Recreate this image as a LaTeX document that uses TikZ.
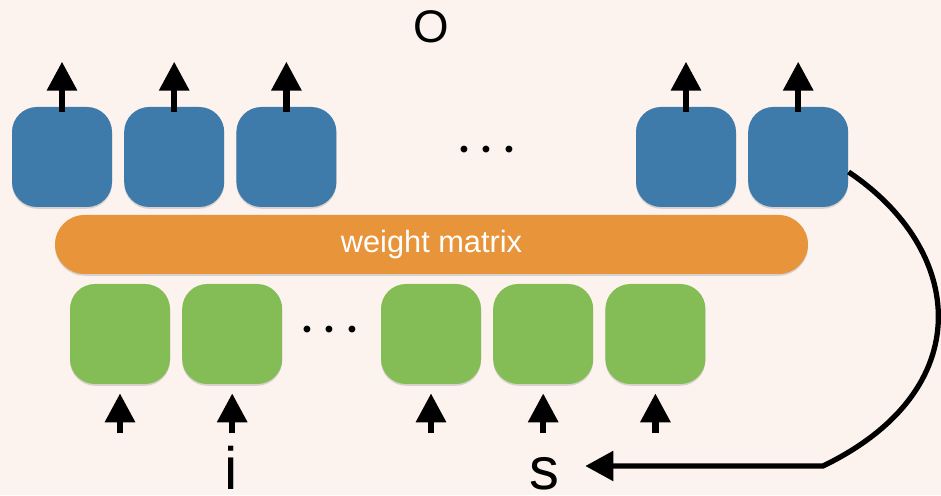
\documentclass[tikz,border=0pt]{standalone}
\usepackage{fontspec}
\setmainfont{Liberation Sans}
\usetikzlibrary{arrows.meta,positioning,shadows}
\definecolor{paper}{RGB}{253,243,238}
\definecolor{outblue}{RGB}{62,122,170}
\definecolor{matorange}{RGB}{232,148,58}
\definecolor{ingreen}{RGB}{132,188,86}
\tikzset{
    cell/.style={rounded corners=0.5cm,minimum size=2cm,inner sep=0pt,
        drop shadow={opacity=0.3,shadow xshift=0pt,shadow yshift=-1pt}},
    outcell/.style={cell,fill=outblue},
    incell/.style={cell,fill=ingreen},
    matrixbar/.style={rounded corners=0.59cm,fill=matorange,minimum width=15.06cm,
        minimum height=1.18cm,text=white,font=\fontsize{17.5}{20}\selectfont,
        drop shadow={opacity=0.3,shadow xshift=0pt,shadow yshift=-1pt}},
    up/.style={-{Triangle[length=5.8mm,width=5.8mm]},line width=3.6pt},
    feedback/.style={-{Triangle[length=5.6mm,width=5.8mm]},line width=3pt},
    dots/.style={font=\fontsize{34}{34}\selectfont\boldmath},
    big/.style={anchor=base,inner sep=0pt}
}

\begin{document}
\begin{tikzpicture}[node distance=0.23cm]

    \fill[paper] (0,0) rectangle (18.82,9.9);
    \useasboundingbox (0,0) rectangle (18.82,9.9);

    % output row
    \node[outcell] (o1) at (1.24,6.76) {};
    \node[outcell] (o2) [right=of o1] {};
    \node[outcell] (o3) [right=of o2] {};
    \node[outcell] (o4) at (13.72,6.76) {};
    \node[outcell] (o5) [right=of o4] {};
    \node[dots]    (odots) at (9.74,6.9) {$\cdots$};
    \node[big,font=\fontsize{26}{28}\selectfont] (o) at (8.62,9.04) {O};

    \node[matrixbar] (w) at (8.63,5.01) {weight matrix};

    % input row
    \node[incell] (x1) at (2.40,3.22) {};
    \node[incell] (x2) [right=of x1] {};
    \node[incell] (x3) at (8.62,3.22) {};
    \node[incell] (x4) [right=of x3] {};
    \node[incell] (x5) [right=of x4] {};
    \node[dots]    (xdots) at (6.6,3.3) {$\cdots$};

    \node[big,font=\fontsize{34}{36}\selectfont] (i) at (4.62,0.12) {i};
    \node[big,font=\fontsize{34}{36}\selectfont] (s) at (10.88,0.12) {s};

    \foreach \n in {o1,o2,o3,o4,o5}
        \draw[up] ([yshift=-0.1cm]\n.north) -- ++(0,1.0);
    \foreach \n in {x1,x2,x3,x4,x5}
        \draw[up] ([yshift=-0.98cm]\n.south) -- ([yshift=-0.18cm]\n.south);

    % feed the last output back in as s
    \coordinate (bend) at (16.46,0.58);
    \draw[feedback] ([yshift=-0.3cm]o5.east) .. controls (19.3,4.9) and (19.6,2.1) .. (bend)
        -- ([xshift=0.52cm]s.east |- bend);

\end{tikzpicture}
\end{document}
